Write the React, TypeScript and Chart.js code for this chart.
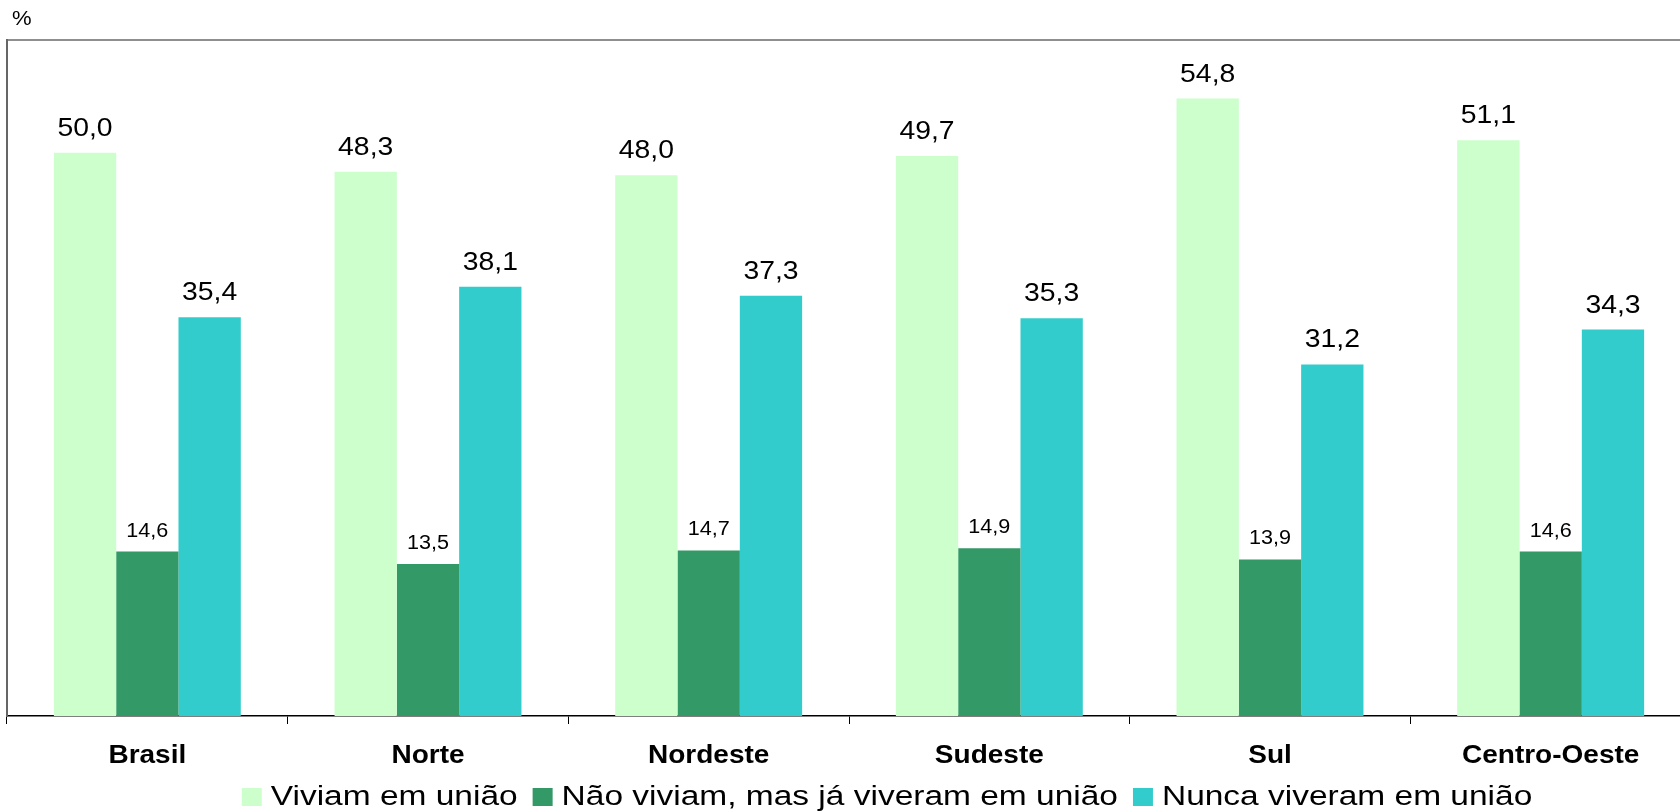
import React, { useEffect, useRef } from "react";
import { Chart, registerables } from "chart.js";

Chart.register(...registerables);

const categories = ["Brasil", "Norte", "Nordeste", "Sudeste", "Sul", "Centro-Oeste"];
const seriesNames = [
  "Viviam em união",
  "Não viviam, mas já viveram em união",
  "Nunca viveram em união",
];
const viviam = [50.0, 48.3, 48.0, 49.7, 54.8, 51.1];
const naoViviam = [14.6, 13.5, 14.7, 14.9, 13.9, 14.6];
const nunca = [35.4, 38.1, 37.3, 35.3, 31.2, 34.3];
const seriesColors = ["#CCFFCC", "#339966", "#33CCCC"];
const yMin = 0;
const yMax = 60;
const unitLabel = "%";

const FONT = '"Liberation Sans", Arial, Helvetica, sans-serif';

function fmt(v: number): string {
  return v.toFixed(1).replace(".", ",");
}

function stretchText(
  ctx: CanvasRenderingContext2D,
  text: string,
  x: number,
  y: number,
  font: string,
  sx: number,
  align: CanvasTextAlign
) {
  ctx.save();
  ctx.font = font;
  ctx.fillStyle = "#000";
  ctx.textBaseline = "alphabetic";
  ctx.textAlign = align;
  ctx.translate(x, y);
  ctx.scale(sx, 1);
  ctx.fillText(text, 0, 0);
  ctx.restore();
}

const decorPlugin = {
  id: "decor",
  afterDatasetsDraw(chart: any) {
    const ctx: CanvasRenderingContext2D = chart.ctx;
    chart.data.datasets.forEach((ds: any, i: number) => {
      const meta = chart.getDatasetMeta(i);
      meta.data.forEach((bar: any, j: number) => {
        const v = ds.data[j] as number;
        const small = i === 1;
        const font = small ? `20px ${FONT}` : `26px ${FONT}`;
        stretchText(ctx, fmt(v), bar.x, bar.y - (small ? 15 : 17), font, small ? 1.08 : 1.09, "center");
      });
    });
  },
  afterDraw(chart: any) {
    const ctx: CanvasRenderingContext2D = chart.ctx;
    const area = chart.chartArea;
    const xScale = chart.scales.x;

    // top frame line
    ctx.save();
    ctx.strokeStyle = "#6a6a6a";
    ctx.lineWidth = 1.5;
    ctx.beginPath();
    ctx.moveTo(area.left - 1, area.top);
    ctx.lineTo(chart.width, area.top);
    ctx.stroke();
    ctx.restore();

    // unit label
    stretchText(ctx, unitLabel, 12, 25, `21px ${FONT}`, 1.05, "left");

    // category labels
    categories.forEach((c, j) => {
      const x = xScale.getPixelForValue(j);
      stretchText(ctx, c, x, area.bottom + 47, `bold 25px ${FONT}`, 1.12, "center");
    });

    // legend
    const legFont = `27px ${FONT}`;
    const sx = 1.24;
    ctx.save();
    ctx.font = legFont;
    const widths = seriesNames.map((n) => ctx.measureText(n).width * sx);
    ctx.restore();
    const boxW = 20;
    const boxH = 18;
    const boxGap = 9;
    const itemGap = 15;
    const total =
      widths.reduce((a, b) => a + b, 0) + seriesNames.length * (boxW + boxGap) + (seriesNames.length - 1) * itemGap;
    let x = 887 - total / 2;
    const baseline = 805;
    seriesNames.forEach((n, i) => {
      ctx.save();
      ctx.fillStyle = seriesColors[i];
      ctx.fillRect(x, baseline - 17, boxW, boxH);
      ctx.restore();
      x += boxW + boxGap;
      stretchText(ctx, n, x, baseline, legFont, sx, "left");
      x += widths[i] + itemGap;
    });
  },
};

export default function App() {
  const canvasRef = useRef<HTMLCanvasElement | null>(null);

  useEffect(() => {
    const canvas = canvasRef.current;
    if (!canvas) return;
    const chart = new Chart(canvas, {
      type: "bar",
      data: {
        labels: categories,
        datasets: [
          { label: seriesNames[0], data: viviam, backgroundColor: seriesColors[0], borderWidth: 0 },
          { label: seriesNames[1], data: naoViviam, backgroundColor: seriesColors[1], borderWidth: 0 },
          { label: seriesNames[2], data: nunca, backgroundColor: seriesColors[2], borderWidth: 0 },
        ],
      },
      options: {
        responsive: false,
        animation: false,
        devicePixelRatio: 1,
        layout: { padding: { left: 7, top: 40, right: 9, bottom: 88 } },
        datasets: { bar: { categoryPercentage: 0.666, barPercentage: 1.0 } },
        plugins: {
          legend: { display: false },
          tooltip: { enabled: false },
        },
        scales: {
          x: {
            grid: {
              display: true,
              offset: true,
              drawOnChartArea: false,
              drawTicks: true,
              tickLength: 8,
              color: "#000",
              lineWidth: 1,
            },
            border: { display: true, color: "#000", width: 1.5 },
            ticks: { display: false },
          },
          y: {
            min: yMin,
            max: yMax,
            grid: { display: false, drawTicks: false },
            border: { display: true, color: "#666", width: 2 },
            ticks: { display: false },
          },
        },
      },
      plugins: [decorPlugin],
    } as any);
    return () => chart.destroy();
  }, []);

  return (
    <div
      style={{
        position: "absolute",
        left: 0,
        top: 0,
        width: 1680,
        height: 812,
        overflow: "hidden",
        background: "#fff",
      }}
    >
      <canvas ref={canvasRef} width={1700} height={812} style={{ display: "block" }} />
    </div>
  );
}
